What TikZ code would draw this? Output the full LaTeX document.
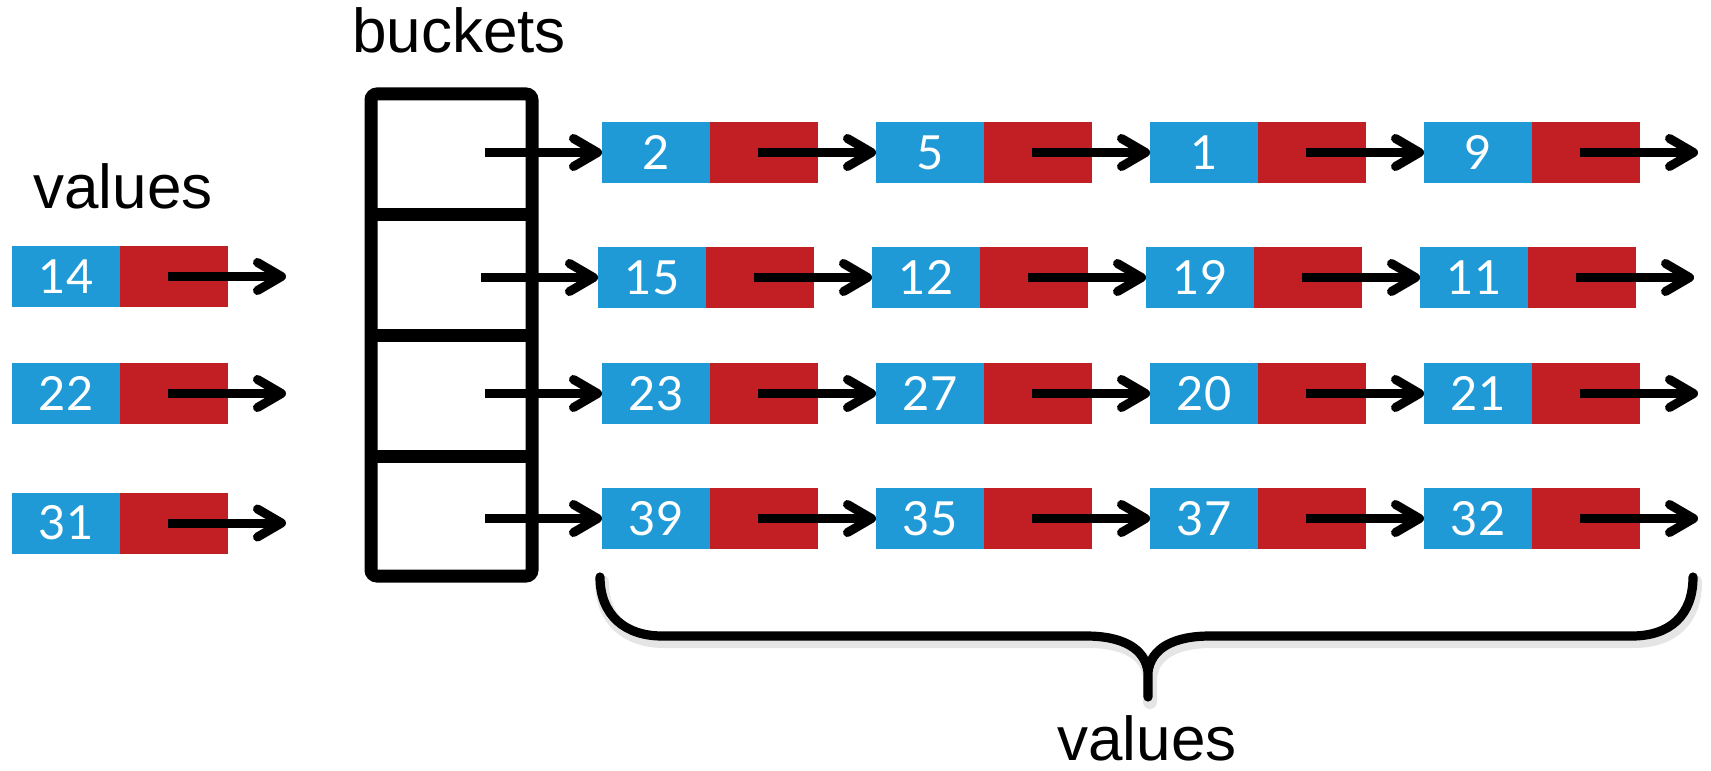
\documentclass[tikz,border=0pt]{standalone}
\usepackage{fontspec}
\setmainfont{Liberation Sans}
\newfontfamily\numfont{Lato}
\usetikzlibrary{arrows.meta,calc}
\definecolor{cblue}{HTML}{1F9AD7}
\definecolor{cred}{HTML}{C21F25}
\begin{document}
\begin{tikzpicture}[x=0.5pt,y=-0.5pt,
  bcell/.style={rectangle,fill=cblue,minimum width=54pt,minimum height=30.5pt,inner sep=0pt,outer sep=0pt,
    text=white,font=\numfont\fontsize{23.5}{26}\selectfont},
  rcell/.style={rectangle,fill=cred,minimum width=54pt,minimum height=30.5pt,inner sep=0pt,outer sep=0pt,anchor=west},
  arr/.style={line width=4.5pt,-{Straight Barb[length=12pt,width=14pt,round]}},
  bucketline/.style={line width=6.5pt},
  lbl/.style={font=\fontsize{31}{36}\selectfont,anchor=base,inner sep=0pt},
  bracestyle/.style={line width=4.6pt,line cap=round,line join=round},
]
\useasboundingbox (0,0) rectangle (1711,770);

% labels
\node[lbl] (lblbuckets) at (459,53) {buckets};
\node[lbl] (lblvalues) at (123,208) {values};
\node[lbl] (lblvalues2) at (1147,760) {values};

% left values
\foreach \n/\y/\v in {1/276.5/14, 2/393.5/22, 3/523/31} {
  \node[bcell] (lb\n) at (66,\y) {\v};
  \node[rcell] (lr\n) at (lb\n.east) {};
  \coordinate (le\n) at ($(lr\n.east)+(58,0)$);
  \draw[arr] ($(lr\n.west)+(48,0)$) -- (le\n);
}

% buckets
\draw[bucketline,rounded corners=3pt] (371,94) rectangle (532,576);
\foreach \y in {215,335,456} {
  \draw[bucketline] (371,\y) -- (532,\y);
}

% lists
\foreach \r/\y/\x/\vals in {1/152.5/602/{2,5,1,9}, 2/277.5/598/{15,12,19,11}, 3/393.5/602/{23,27,20,21}, 4/518.5/602/{39,35,37,32}} {
  \foreach \v [count=\c] in \vals {
    \node[bcell] (b\r-\c) at (\x+274*\c-220,\y) {\v};
    \node[rcell] (r\r-\c) at (b\r-\c.east) {};
  }
  \coordinate (s\r) at ($(b\r-1.west)+(-117,0)$);
  \draw[arr] (s\r) -- (b\r-1.west);
  \foreach \c in {1,2,3} {
    \pgfmathtruncatemacro{\nx}{\c+1}
    \draw[arr] ($(r\r-\c.west)+(48,0)$) -- (b\r-\nx.west);
  }
  \coordinate (e\r) at ($(r\r-4.east)+(58,0)$);
  \draw[arr] ($(r\r-4.west)+(48,0)$) -- (e\r);
}

% brace with soft shadow
\begin{scope}[shift={(2,5)}]
  \draw[bracestyle,black!10,line width=7pt] (600,577) .. controls (600,615) and (625,636) .. (662,636)
    -- (1086,636) .. controls (1122,636) and (1145,648) .. (1148,672) -- (1148,697)
    (1148,672) .. controls (1151,648) and (1174,636) .. (1210,636)
    -- (1632,636) .. controls (1670,636) and (1693,615) .. (1693,577);
\end{scope}
\draw[bracestyle] (600,577) .. controls (600,615) and (625,636) .. (662,636)
    -- (1086,636) .. controls (1122,636) and (1145,648) .. (1148,672) -- (1148,697)
    (1148,672) .. controls (1151,648) and (1174,636) .. (1210,636)
    -- (1632,636) .. controls (1670,636) and (1693,615) .. (1693,577);
\end{tikzpicture}
\end{document}
